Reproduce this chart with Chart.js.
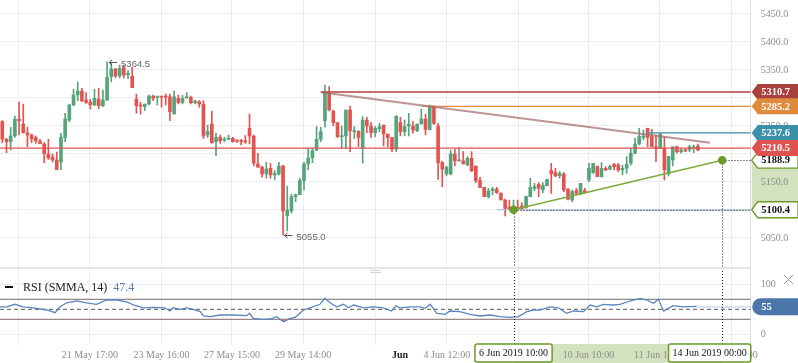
<!DOCTYPE html>
<html><head><meta charset="utf-8">
<script src="https://cdn.jsdelivr.net/npm/chart.js@4.4.1/dist/chart.umd.min.js"></script>
<style>
html,body{margin:0;padding:0;background:#fff;}
#wrap{position:relative;width:798px;height:363px;overflow:hidden;background:#fff;}
#c1{position:absolute;left:0;top:0;}
#c2{position:absolute;left:0;top:268px;}
</style></head><body>
<div id="wrap"><canvas id="c1" width="798" height="268"></canvas><canvas id="c2" width="798" height="95"></canvas></div>
<script>
// ---------- DATA ----------
const opens = [5257.7,5226.3,5222,5232.1,5262.5,5253.6,5238,5233.9,5229.1,5223.2,
5217.9,5200,5194.6,5189.3,5185.7,5229.8,5260.7,5287.5,5305.4,5312.5,
5296.4,5292.9,5287.5,5298.2,5286.3,5296.4,5338,5351.8,5339.3,5354.1,
5341.6,5339.3,5298.2,5286.3,5284.5,5289.3,5303.6,5301.3,5302.3,5302.3,
5302.3,5271.4,5299.5,5292.3,5300,5301.3,5291.6,5293.4,5289.3,5233.9,
5253.6,5222,5229.8,5224.5,5226.3,5228,5225,5223.8,5223.2,5245.9,
5232.1,5182.1,5176.3,5164.3,5174.5,5162.5,5164.3,5178.6,5089.8,5098.2,
5123.8,5127.3,5152.3,5182.1,5193.4,5207.1,5226.3,5259.5,5309.5,5276.8,
5255.9,5230.9,5232.1,5278.6,5239.8,5239.8,5210.2,5260.7,5250,5238,
5245.2,5251.8,5235.7,5229.1,5208.4,5255.9,5239.8,5250,5250,5241.6,
5253.6,5262.5,5244.1,5285.7,5250,5184.5,5164.3,5164.3,5200,5187.5,
5188,5180.4,5192.3,5178.6,5152.3,5140.5,5123.8,5134.5,5137.5,5129.8,
5117.9,5104.8,5101.3,5104.8,5107,5104.8,5123.8,5138.7,5145.9,5135.7,
5143.4,5170.2,5166.6,5161.3,5164.3,5137,5117.9,5134.5,5128.6,5134.5,
5153.6,5166.6,5177.3,5159.5,5174.5,5172.7,5181.6,5180.4,5171.4,5174.5,
5183.4,5201.3,5217.9,5229.8,5245.9,5230.9,5213,5210.2,5210.2,5164.3,
5189.3,5213,5204.1,5207.1,5207.1,5210.7,5214.3];
const highs = [5259.5,5228,5247.7,5267.9,5292.9,5289.3,5247.7,5235.7,5232.1,5226.3,
5220.2,5226.3,5200,5203.6,5237,5272.7,5289.3,5315.5,5328.6,5317.3,
5309.5,5297.7,5315.5,5317.3,5314.3,5364.5,5363,5353,5358.9,5358.9,
5348.8,5354.8,5307.1,5292.3,5289.3,5305.4,5305.4,5302.3,5302.3,5307.1,
5307.1,5312.5,5305.4,5305.4,5309.5,5303.6,5296.4,5295.2,5295.2,5251.8,
5276.8,5237,5233.9,5229.8,5233.9,5229.8,5225,5226.3,5232.7,5271.4,
5233.9,5201.3,5178.6,5185.2,5183.4,5170.2,5185.2,5180.4,5142.9,5128.6,
5128.6,5156.6,5185.2,5210.2,5210.2,5248.8,5247.7,5323.2,5320.2,5278.6,
5255.9,5250,5278.6,5285.7,5248.8,5241.6,5266.6,5265.5,5255.9,5248.8,
5254.8,5251.8,5235.7,5229.1,5267.9,5265.5,5260.7,5272.7,5257.7,5253.6,
5279.8,5271.4,5287.5,5285.7,5254.8,5187.5,5178.6,5207.1,5208.4,5212,
5204.1,5195.2,5204.1,5178.6,5158.4,5140.5,5138.7,5140.5,5140.5,5130.9,
5119.6,5117.9,5117.9,5117.9,5113,5125,5156.6,5147.7,5148.8,5148.8,
5154.8,5183.4,5174.5,5168.4,5166.6,5138.7,5135.7,5138.7,5147.7,5138.7,
5183.4,5183.4,5179,5184.5,5177.3,5180.4,5183.4,5183.4,5180.4,5195.2,
5210.2,5228,5245.9,5242.9,5246.4,5244.1,5233.9,5237,5229.8,5196.4,
5213,5214.3,5210.2,5208.4,5216.1,5216.1,5217.9];
const lows = [5220.2,5202.3,5207.1,5229.8,5233.9,5237,5213,5220.2,5219.1,5217.9,
5184.5,5190.5,5185.7,5172,5172,5222,5257.7,5286.3,5295.2,5293.4,
5290.5,5280.4,5286.3,5280.4,5284.5,5295.2,5328.6,5335.7,5335.7,5335.7,
5334.5,5318.4,5272.7,5270.9,5277.3,5287.5,5295.2,5287.5,5283.4,5287.5,
5259.5,5271.4,5289.3,5289.3,5300,5289.3,5289.3,5283.4,5228,5229.8,
5219.1,5197,5219.1,5221.4,5225,5220.9,5220.2,5216.1,5219.1,5217.9,
5178.6,5176.3,5158.4,5156.6,5156.6,5153.6,5162.5,5055,5062.5,5094.1,
5114.8,5127.3,5135.7,5171.4,5184.5,5205.9,5222,5247.7,5276.8,5250,
5229.1,5210.2,5210.2,5204.1,5228,5213,5183.4,5238,5229.8,5230.9,
5239.8,5214.3,5213,5204.1,5204.1,5232.1,5232.1,5232.1,5237,5239.8,
5253.6,5233.9,5242.9,5253,5154.8,5141.6,5160.7,5162.5,5178.6,5187,
5182.1,5178.6,5168.4,5148.8,5140.5,5123.8,5120.9,5126.8,5129.8,5117.9,
5089.3,5101.3,5097,5101.3,5101.3,5103,5123.8,5134.5,5123.8,5130.9,
5142.9,5129.8,5159.5,5156.6,5132.7,5117.9,5114.8,5126.8,5126.8,5129.8,
5150.5,5165.5,5159.5,5158.4,5170.2,5171.4,5171.4,5168.4,5162.5,5165.5,
5180.4,5200,5216.1,5225,5213,5213,5186.3,5210.2,5153.6,5160.7,
5178.6,5201.3,5201.3,5204.1,5204.1,5202.3,5205.9];
const closes = [5226.3,5222,5232.1,5262,5259.5,5238,5233.9,5226.8,5223.2,5218.4,
5200.5,5192.9,5189.3,5172,5229.8,5262.5,5287.5,5305.4,5312.5,5294.6,
5292.3,5288,5299.5,5286.3,5296.4,5337,5351.8,5339.3,5353,5341.1,
5344.1,5318.4,5286.3,5285.2,5289.3,5303.6,5299.5,5302.3,5301.3,5301.3,
5275.5,5302.3,5292.3,5299.5,5301.3,5291.6,5294.6,5289.3,5232.1,5239.8,
5220.2,5229.1,5223.8,5226.3,5227.3,5222,5223.2,5222,5221.4,5232.1,
5183.4,5176.3,5164.3,5173.2,5162.5,5165.5,5178.6,5098.2,5100,5123.8,
5127.3,5152.3,5182.1,5192.9,5205.9,5226.3,5239.8,5309.5,5278.6,5255.9,
5230.9,5232.1,5278.6,5241.6,5241.6,5229.8,5260.7,5250,5238,5245.9,
5248.8,5235.7,5229.1,5208.4,5267.9,5239.8,5248.8,5253,5242.9,5253.6,
5262.5,5244.1,5285.7,5254.8,5184.5,5172.7,5176.3,5200,5188,5187.5,
5182.1,5192.3,5170.2,5152.3,5140.5,5123.8,5133.9,5137.5,5130.9,5117.9,
5103,5101.3,5105.9,5101.3,5101.3,5123.8,5140.5,5141.6,5138.7,5143.4,
5154.8,5164.3,5160.7,5165.5,5135.7,5119.1,5132.7,5129.8,5147.7,5130.9,
5174.5,5183.4,5159.5,5174.5,5171.4,5177.3,5177.3,5171.4,5174.5,5181.6,
5201.3,5217.9,5230.9,5232.1,5229.8,5213,5210.2,5235.7,5171.4,5195.2,
5213,5204.1,5207.1,5205.4,5213,5213,5207.1];

const priceTicks = [5050,5100,5150,5200,5250,5300,5350,5400,5450];
const xGridIdx = [3.8,20.9,38,54.8,71.8,89,106.1,123.1,139.9,156.9,174.1];
const xGridLabels = ['','21 May 17:00','23 May 16:00','27 May 15:00','29 May 14:00','','4 Jun 12:00','6 Jun 11:00','10 Jun 10:00','11 Jun 18:00','13 Jun 16:00'];
const monthIdx = 94.9;
const monthLabel = 'Jun';

const levelValues = [5310.7,5285.2,5237.6,5210.5,5100.4];
const levelStartIdx = [76,100.1,153.8,-0.55,118];
const levelLineColors = ['#b0403e','#e38a3a','#3d8ea9','#e2524f','#a3b4d6'];
const levelTagColors = ['#a8403e','#e08a3b','#3b8fa8','#e0524f',null];

const downTrendIdx = [76,168.9];
const downTrendVal = [5310.2,5220.2];
const upTrendIdx = [122,171.8];
const upTrendVal = [5100.4,5188.9];
const rangeBoxLabels = ['6 Jun 2019 10:00','14 Jun 2019 00:00'];
const extremaIdx = [25,67];
const extremaVal = [5364.5,5055.0];

const rsiIdx = [-0.55,1.05,3.03,5.0,7.4,10.6,12.6,13.8,15.4,17.8,20.1,22.5,24.9,27.3,29.7,31.3,33.7,36.0,38.8,40.0,40.8,42.4,44.0,45.6,47.2,48.0,49.6,52.0,55.1,58.3,59.0,59.9,62.3,63.9,65.5,67.1,68.7,69.9,71.9,73.4,75.8,77.0,78.2,79.8,81.4,82.6,83.8,86.2,88.5,90.9,92.9,93.9,94.9,97.3,99.7,100.9,102.1,103.7,105.7,106.8,109.2,111.6,114.0,116.4,118.8,121.2,123.2,125.2,126.7,128.3,130.7,132.7,134.7,136.3,138.7,140.3,141.9,143.4,145.8,147.4,149.8,152.2,153.8,155.4,156.6,157.8,160.1,162.5,165.7];
const rsiVal = [55,55,60,55,53,48.6,43.3,55,63,67,63,60,68.6,68.6,65,58.6,53,54,53,46.6,53,50,53,50,45.3,36.6,35.3,38.6,38.6,37.3,42,32,30,30.6,35.3,25.3,32,34,48.6,53,60,72,63,55,60,53,58.6,53,55,53,46.6,57,53,55,55,52,60,42,40,46.6,45.3,40,36.6,38.6,35.3,34,35.3,45.3,48.6,48.6,55,53,42,46.6,45.3,58.6,55,60,58.6,60,66.6,72,68.6,62,70,46.6,57.3,55,56];
const rsiLevels = [70,50,30];
const rsiTicks = [0,100];
const rsiLegendValue = '47.4';
const rsiTagValue = 55;

// ---------- LAYOUT CONSTANTS ----------
const X_MIN = -0.55, X_MAX = 178.6;
const Y_MIN = 4996.4, Y_MAX = 5475;
const R_MIN = -21.4, R_MAX = 132.6;
const RIGHT_W = 47.3;
const GRID = '#ebedf0';
const GREEN = '#55a47b', RED = '#e25450', GRAY = '#8c8c8c';
const SERIF = "'Liberation Serif','Times New Roman',serif";
Chart.defaults.font.family = SERIF;

const idx = opens.map((_, i) => i);
const colors = idx.map(i => closes[i] > opens[i] ? GREEN : (closes[i] < opens[i] ? RED : GRAY));

function noPad(s){ s.paddingTop = 0; s.paddingBottom = 0; s.paddingLeft = 0; s.paddingRight = 0; }

function drawTag(ctx, x0, y, x1, h, fill, stroke, text, color){
  ctx.save();
  ctx.beginPath();
  ctx.moveTo(x0, y);
  ctx.lineTo(x0 + 6, y - h/2);
  ctx.lineTo(x1, y - h/2);
  ctx.lineTo(x1, y + h/2);
  ctx.lineTo(x0 + 6, y + h/2);
  ctx.closePath();
  ctx.fillStyle = fill; ctx.fill();
  if (stroke){ ctx.strokeStyle = stroke; ctx.lineWidth = 1.3; ctx.stroke(); }
  ctx.fillStyle = color;
  ctx.font = 'bold 10.5px ' + SERIF;
  ctx.textBaseline = 'middle'; ctx.textAlign = 'left';
  ctx.fillText(text, x0 + 9.5, y + 0.5);
  ctx.restore();
}

const mainPlugin = {
  id: 'mainDecor',
  beforeDraw(chart){
    const {ctx, chartArea: a, scales: {y}} = chart;
    const y1 = y.getPixelForValue(upTrendVal[1]), y2 = y.getPixelForValue(upTrendVal[0]);
    ctx.save(); ctx.fillStyle = '#d3e1be';
    ctx.fillRect(a.right + 1, y1, chart.width - a.right - 1, y2 - y1);
    ctx.restore();
  },
  beforeDatasetDraw(chart, args){
    if (args.index !== chart.data.datasets.length - 1) return;
    const {ctx, chartArea: a, scales: {x, y}} = chart;
    ctx.save(); ctx.strokeStyle = '#1a1a1a'; ctx.lineWidth = 1; ctx.setLineDash([1, 2]);
    upTrendIdx.forEach((ix, k) => {
      const px = Math.round(x.getPixelForValue(ix)) + 0.5;
      const py = Math.round(y.getPixelForValue(upTrendVal[k])) + 0.5;
      ctx.beginPath();
      ctx.moveTo(px, py); ctx.lineTo(px, a.bottom);
      ctx.moveTo(px, py); ctx.lineTo(a.right, py);
      ctx.stroke();
    });
    ctx.restore();
  },
  afterDatasetsDraw(chart){
    const {ctx, scales: {x, y}} = chart;
    ctx.save();
    extremaIdx.forEach((ix, k) => {
      const px = x.getPixelForValue(ix) + (k === 0 ? 2 : 1.5);
      const py = Math.round(y.getPixelForValue(extremaVal[k])) + 0.5;
      ctx.strokeStyle = '#555'; ctx.lineWidth = 1;
      ctx.beginPath();
      ctx.moveTo(px, py); ctx.lineTo(px + 8, py);
      ctx.moveTo(px + 3, py - 2.5); ctx.lineTo(px, py); ctx.lineTo(px + 3, py + 2.5);
      ctx.stroke();
      ctx.fillStyle = '#666';
      ctx.font = "9.5px 'Liberation Sans', Arial, sans-serif";
      ctx.textBaseline = 'middle'; ctx.textAlign = 'left';
      ctx.fillText(extremaVal[k].toFixed(1), px + 12, py + 1.5);
    });
    ctx.restore();
  },
  afterDraw(chart){
    const {ctx, chartArea: a, scales: {y}} = chart;
    ctx.save();
    ctx.strokeStyle = '#e1e4e8'; ctx.lineWidth = 1;
    ctx.beginPath(); ctx.moveTo(0, a.bottom - 0.5); ctx.lineTo(a.right, a.bottom - 0.5); ctx.stroke();
    ctx.restore();
    const x0 = a.right + 1, x1 = chart.width;
    upTrendVal.forEach(v => drawTag(ctx, x0, y.getPixelForValue(v), x1, 16, '#ffffff', '#6b9a27', v.toFixed(1), '#111'));
    levelValues.forEach((v, k) => {
      if (!levelTagColors[k]) return;
      drawTag(ctx, x0, y.getPixelForValue(v), x1, 16, levelTagColors[k], null, v.toFixed(1), '#ffffff');
    });
  }
};

const mainChart = new Chart(document.getElementById('c1'), {
  type: 'bar',
  data: { datasets: [
    { label: 'wick', data: idx.map(i => ({x: i, y: [lows[i], highs[i]]})), backgroundColor: colors, barThickness: 1, grouped: false, order: 6 },
    { label: 'body', data: idx.map(i => ({x: i, y: [Math.min(opens[i], closes[i]), Math.max(opens[i], closes[i])]})), backgroundColor: colors, barThickness: 3, minBarLength: 1.2, grouped: false, order: 5 },
    ...levelValues.map((v, k) => ({ type: 'line', data: [{x: levelStartIdx[k], y: v}, {x: X_MAX, y: v}], borderColor: levelLineColors[k], borderWidth: k === 0 ? 1.5 : 1.2, pointRadius: 0, order: 4 })),
    { type: 'line', data: downTrendIdx.map((x, k) => ({x, y: downTrendVal[k]})), borderColor: 'rgba(160,110,110,0.72)', borderWidth: 2, pointRadius: 0, order: 2 },
    { type: 'line', data: upTrendIdx.map((x, k) => ({x, y: upTrendVal[k]})), borderColor: '#80a83c', borderWidth: 1.5, pointRadius: 3.5, pointBackgroundColor: '#6b9a27', pointBorderColor: '#6b9a27', order: 1 }
  ]},
  options: {
    responsive: false, animation: false, devicePixelRatio: 1,
    layout: { padding: 0, autoPadding: false },
    plugins: { legend: { display: false }, tooltip: { enabled: false } },
    scales: {
      x: { type: 'linear', min: X_MIN, max: X_MAX, offset: false,
        afterBuildTicks: s => { s.ticks = xGridIdx.map(v => ({value: v})); },
        ticks: { display: false },
        grid: { color: GRID, drawTicks: false, offset: false },
        border: { display: false },
        afterFit: s => { s.height = 0; noPad(s); } },
      y: { position: 'right', min: Y_MIN, max: Y_MAX,
        afterBuildTicks: s => { s.ticks = priceTicks.map(v => ({value: v})); },
        ticks: { callback: v => Number(v).toFixed(1), color: '#8c8c8c', font: { size: 10 }, padding: 10 },
        grid: { color: GRID, drawTicks: false },
        border: { color: '#dcdfe3' },
        afterFit: s => { s.width = RIGHT_W; noPad(s); } }
    }
  },
  plugins: [mainPlugin]
});

// ---------- RSI PANEL ----------
const allXTicks = xGridIdx.concat([monthIdx]).sort((a, b) => a - b);
function xLabel(v){
  if (Math.abs(v - monthIdx) < 1e-6) return monthLabel;
  const k = xGridIdx.findIndex(g => Math.abs(g - v) < 1e-6);
  return k >= 0 ? xGridLabels[k] : '';
}
const isMonth = ctx => ctx.tick && Math.abs(ctx.tick.value - monthIdx) < 1e-6;

const rsiPlugin = {
  id: 'rsiDecor',
  beforeDraw(chart){
    const {ctx, chartArea: a, scales: {x}} = chart;
    const x1 = x.getPixelForValue(upTrendIdx[0]), x2 = x.getPixelForValue(upTrendIdx[1]);
    ctx.save(); ctx.fillStyle = '#d3e1be';
    ctx.fillRect(x1, a.bottom - 1, x2 - x1, chart.height - a.bottom + 1);
    ctx.restore();
  },
  afterDatasetsDraw(chart){
    const {ctx, chartArea: a, scales: {x}} = chart;
    ctx.save(); ctx.strokeStyle = '#1a1a1a'; ctx.lineWidth = 1; ctx.setLineDash([1, 2]);
    upTrendIdx.forEach(ix => {
      const px = Math.round(x.getPixelForValue(ix)) + 0.5;
      ctx.beginPath(); ctx.moveTo(px, 0); ctx.lineTo(px, a.bottom); ctx.stroke();
    });
    ctx.restore();
  },
  afterDraw(chart){
    const {ctx, chartArea: a, scales: {x, y}} = chart;
    ctx.save();
    ctx.strokeStyle = '#e1e4e8'; ctx.lineWidth = 1;
    ctx.beginPath(); ctx.moveTo(0, 0.5); ctx.lineTo(a.right, 0.5); ctx.stroke();
    ctx.strokeStyle = '#d2d4d8';
    ctx.beginPath(); ctx.moveTo(370, 2.5); ctx.lineTo(381, 2.5); ctx.moveTo(370, 4.5); ctx.lineTo(381, 4.5); ctx.stroke();
    ctx.fillStyle = '#111'; ctx.fillRect(5, 18, 8, 2);
    ctx.font = '12px ' + SERIF; ctx.textBaseline = 'middle'; ctx.textAlign = 'left';
    ctx.fillStyle = '#222';
    const t = 'RSI (SMMA, 14)';
    ctx.fillText(t, 23, 19.5);
    const w = ctx.measureText(t).width;
    ctx.fillStyle = '#5a7fb8';
    ctx.fillText(rsiLegendValue, 23 + w + 6, 19.5);
    ctx.strokeStyle = '#a0a0a0'; ctx.lineWidth = 1;
    ctx.beginPath(); ctx.moveTo(784, 7); ctx.lineTo(793, 16); ctx.moveTo(793, 7); ctx.lineTo(784, 16); ctx.stroke();
    const ty = y.getPixelForValue(rsiTagValue), th = 17, tx = a.right + 1.5;
    ctx.beginPath();
    ctx.moveTo(chart.width, ty - th/2);
    ctx.lineTo(tx + th/2, ty - th/2);
    ctx.arc(tx + th/2, ty, th/2, -Math.PI/2, Math.PI/2, true);
    ctx.lineTo(chart.width, ty + th/2);
    ctx.closePath();
    ctx.fillStyle = '#4a76a9'; ctx.fill();
    ctx.fillStyle = '#fff'; ctx.font = 'bold 10.5px ' + SERIF;
    ctx.fillText(String(rsiTagValue), tx + 9, ty + 0.5);
    ctx.font = '10px ' + SERIF;
    upTrendIdx.forEach((ix, k) => {
      const label = rangeBoxLabels[k];
      const bw = ctx.measureText(label).width + 8;
      let cx = x.getPixelForValue(ix);
      let left = cx - bw/2;
      if (left + bw > a.right) left = a.right - bw;
      const top = a.bottom - 1, bh = 18;
      ctx.beginPath();
      if (ctx.roundRect) ctx.roundRect(left, top, bw, bh, 2); else ctx.rect(left, top, bw, bh);
      ctx.fillStyle = '#fff'; ctx.fill();
      ctx.strokeStyle = '#6b9a27'; ctx.lineWidth = 1.5; ctx.stroke();
      ctx.fillStyle = '#111'; ctx.textAlign = 'center'; ctx.textBaseline = 'middle';
      ctx.fillText(label, left + bw/2, top + bh/2 + 0.5);
    });
    ctx.restore();
  }
};

new Chart(document.getElementById('c2'), {
  type: 'line',
  data: { datasets: [
    { data: rsiIdx.map((x, i) => ({x, y: rsiVal[i]})), borderColor: '#5b85bf', borderWidth: 1.3, pointRadius: 0, tension: 0,
      fill: { target: { value: 30 }, above: 'rgba(0,0,0,0)', below: '#e8706c' }, order: 1 },
    { data: [{x: rsiIdx[rsiIdx.length - 1], y: rsiTagValue}, {x: X_MAX, y: rsiTagValue}], borderColor: 'rgba(140,170,215,0.5)', borderWidth: 1.3, pointRadius: 0, order: 2 },
    ...rsiLevels.map((v, k) => ({ data: [{x: X_MIN, y: v}, {x: X_MAX, y: v}], borderColor: k === 1 ? '#555' : '#6d6d6d', borderWidth: 1, borderDash: k === 1 ? [4, 3] : [], pointRadius: 0, order: 3 }))
  ]},
  options: {
    responsive: false, animation: false, devicePixelRatio: 1,
    layout: { padding: 0, autoPadding: false },
    plugins: { legend: { display: false }, tooltip: { enabled: false } },
    scales: {
      x: { type: 'linear', min: X_MIN, max: X_MAX, offset: false,
        afterBuildTicks: s => { s.ticks = allXTicks.map(v => ({value: v})); },
        ticks: { autoSkip: false, maxRotation: 0, minRotation: 0, padding: 4,
          callback: v => xLabel(v),
          color: ctx => isMonth(ctx) ? '#222' : '#8c8c8c',
          font: ctx => isMonth(ctx) ? { size: 10, weight: 'bold' } : { size: 10 } },
        grid: { color: ctx => isMonth(ctx) ? 'rgba(0,0,0,0)' : GRID, drawTicks: false },
        border: { display: false },
        afterFit: s => { s.height = 18; noPad(s); } },
      y: { position: 'right', min: R_MIN, max: R_MAX,
        afterBuildTicks: s => { s.ticks = rsiTicks.map(v => ({value: v})); },
        ticks: { color: '#8c8c8c', font: { size: 10 }, padding: 10 },
        grid: { color: GRID, drawTicks: false },
        border: { color: '#dcdfe3' },
        afterFit: s => { s.width = RIGHT_W; noPad(s); } }
    }
  },
  plugins: [rsiPlugin]
});
</script>
</body></html>
